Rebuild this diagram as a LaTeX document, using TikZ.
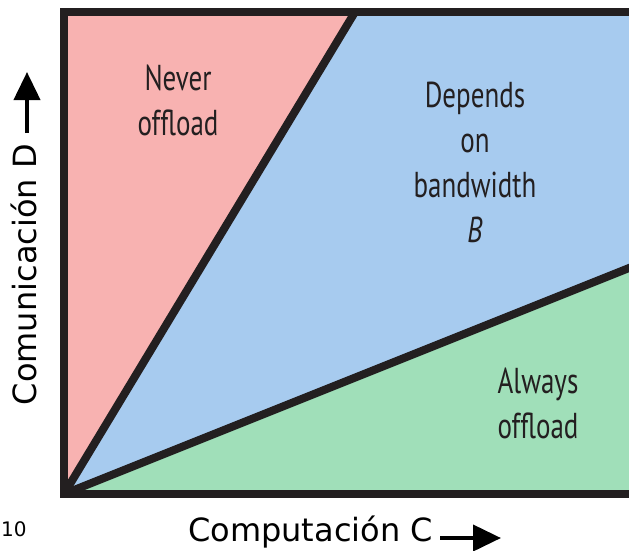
\documentclass[tikz,border=0pt]{standalone}
\usepackage{fontspec}
\setmainfont[FakeStretch=0.75]{PT Sans}
\newfontfamily\axisfont{DejaVu Sans}
\usetikzlibrary{arrows.meta}
\definecolor{never}{HTML}{F8B2B1}
\definecolor{depends}{HTML}{A7CBEF}
\definecolor{always}{HTML}{A0DFB9}
\definecolor{ink}{HTML}{231F20}
\tikzset{
  border/.style={draw=ink, line width=8pt},
  region/.style={font=\fontsize{36}{45}\selectfont, text=ink, align=center, inner sep=0pt},
  axislabel/.style={font=\axisfont\fontsize{32}{38}\selectfont, inner sep=0pt},
  axisarrow/.style={line width=4pt, -{Triangle[length=28pt,width=26pt]}},
}
\begin{document}
\begin{tikzpicture}[x=1pt,y=-1pt]
\useasboundingbox (0,0) rectangle (629,550);
\clip (0,0) rectangle (629,550);
% corner points of the chart
\coordinate (O) at (64,494);
\coordinate (TL) at (64,12);
\coordinate (T) at (355,12);
\coordinate (TR) at (640,12);
\coordinate (R) at (640,263.6);
\coordinate (BR) at (640,494);
% shaded regions
\fill[never] (O) -- (TL) -- (T) -- cycle;
\fill[depends] (O) -- (T) -- (TR) -- (R) -- cycle;
\fill[always] (O) -- (R) -- (BR) -- cycle;
% dividing lines and frame
\draw[border, line cap=round] (O) -- (T);
\draw[border, line cap=round] (O) -- (R);
\draw[border, line join=miter] (TR) -- (TL) -- (O) -- (BR);
% region labels (base anchor sits on the last line)
\node[region, anchor=base] (never) at (178,135) {Never\\offload};
\node[region, anchor=base] (depends) at (475,242) {Depends\\on\\bandwidth\\\textit{B}};
\node[region, anchor=base] (always) at (538,438) {Always\\offload};
% axes
\node[axislabel, anchor=base west] (xlab) at (188,541) {Computación C};
\coordinate (xa) at (440,538);
\coordinate (xb) at (501,538);
\draw[axisarrow] (xa) -- (xb);
\node[axislabel, rotate=90, anchor=base east] (ylab) at (36,144) {Comunicación D};
\coordinate (ya) at (27,133);
\coordinate (yb) at (27,72);
\draw[axisarrow] (ya) -- (yb);
\node[font=\axisfont\fontsize{20}{24}\selectfont, anchor=base west, inner sep=0pt] (num) at (1,536) {10};
\end{tikzpicture}
\end{document}
